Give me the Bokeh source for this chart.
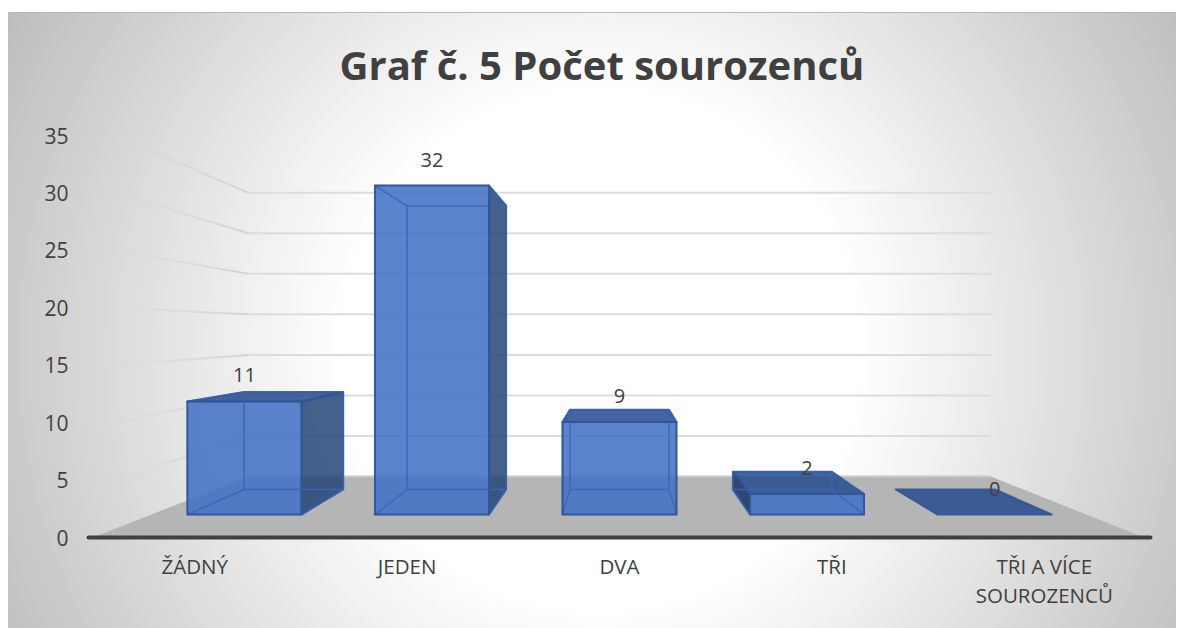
from bokeh.plotting import figure
from bokeh.models import FactorRange, Range1d, FixedTicker
from bokeh.core.properties import value
from bokeh.embed import file_html
from bokeh.resources import INLINE

title = "Graf č. 5 Počet sourozenců"
categories = ["ŽÁDNÝ", "JEDEN", "DVA", "TŘI", "TŘI A VÍCE\nSOUROZENCŮ"]
values = [11, 32, 9, 2, 0]
y_ticks = [0, 5, 10, 15, 20, 25, 30, 35]

FONT = "Open Sans"
TEXT = "#404040"
Y_TOP = 38.05
CX = 2.5
# 3D planes: (x scale, y scale, y base in axis units)
BAR_F = (0.883, 0.895, 2.0)
BAR_B = (0.767, 0.772, 4.18)
WALL = (0.699, 0.706, 5.31)
HALF = 0.304


def px(c, plane):
    return CX + (c - CX) * plane[0]


def py(v, plane):
    return plane[2] + v * plane[1]


p = figure(width=1168, height=620, x_range=FactorRange(*categories, factor_padding=0, range_padding=0),
           y_range=Range1d(0, Y_TOP), output_backend="svg", toolbar_location=None,
           min_border_left=80, min_border_right=26, min_border_bottom=91, min_border_top=92)
p.margin = (8, 0, 0, 8)
p.styles = {
    "background": "linear-gradient(#fff,#fff) top/100% 4px no-repeat, "
                  "linear-gradient(#b8b8b8,#b8b8b8) 0 4px/100% 1px no-repeat, "
                  "radial-gradient(circle 680px at 592px 342px, #ffffff 38%, #bdbdbd 100%)",
}
p.background_fill_alpha = 0
p.border_fill_alpha = 0
p.outline_line_color = None
p.grid.visible = False

p.title.text = title
p.title.text_font = FONT
p.title.text_font_size = "40px"
p.title.text_font_style = "bold"
p.title.text_color = TEXT
p.title.align = "left"
p.title.offset = 251
p.title.standoff = 17

p.yaxis.ticker = FixedTicker(ticks=y_ticks)
p.yaxis.axis_line_color = None
p.yaxis.major_tick_line_color = None
p.yaxis.minor_tick_line_color = None
p.yaxis.major_label_standoff = 14
p.yaxis.major_label_text_font = FONT
p.yaxis.major_label_text_font_size = "21px"
p.yaxis.major_label_text_color = TEXT

p.xaxis.axis_line_color = "#404040"
p.xaxis.axis_line_width = 4
p.xaxis.axis_line_cap = "round"
p.xaxis.major_tick_line_color = None
p.xaxis.minor_tick_line_color = None
p.xaxis.major_label_standoff = 8
p.xaxis.major_label_text_font = FONT
p.xaxis.major_label_text_font_size = "20.5px"
p.xaxis.major_label_text_color = TEXT
p.xaxis.major_label_text_line_height = 1.07

# floor
p.patch([0.02, 4.97, px(5, WALL), px(0, WALL)], [0, 0, py(0, WALL), py(0, WALL)],
        fill_color="#b5b5b5", line_color=None)

# gridlines on left wall (fading) and on back wall
LEFT_END = 0.127
steps = 8
seg_x, seg_y, seg_a = [], [], []
for t in y_ticks[1:]:
    for i in range(steps):
        a, b = i / steps, (i + 1) / steps
        xa = LEFT_END + (px(0, WALL) - LEFT_END) * a
        xb = LEFT_END + (px(0, WALL) - LEFT_END) * b
        ya = t + (py(t, WALL) - t) * a
        yb = t + (py(t, WALL) - t) * b
        seg_x.append([xa, xb])
        seg_y.append([ya, yb])
        seg_a.append(b)
p.multi_line(seg_x, seg_y, line_color="#d4d4d4", line_width=2, line_alpha=seg_a)
back_x = [[px(0, WALL), px(5, WALL)] for _ in y_ticks[1:]]
back_y = [[py(t, WALL), py(t, WALL)] for t in y_ticks[1:]]
p.multi_line(back_x, back_y, line_color="#dcdcdc", line_width=2)
p.line([px(0, WALL), px(5, WALL)], [py(0, WALL), py(0, WALL)], line_color="#c8c8c8", line_width=2)

LIGHT = "#4472C4"
SIDE = "#264478"
LEFT_SIDE = "#1F3864"
TOP = "#2B4F8F"
EDGE = "#2F5597"
INNER = "#3A66BA"


def face(xs, ys, color, alpha):
    p.patch(xs, ys, fill_color=color, fill_alpha=alpha, line_color=EDGE, line_width=2, line_alpha=0.9,
            line_join="round")


def outline(xs, ys):
    p.patch(xs, ys, fill_color=None, line_color=INNER, line_width=1.5, line_alpha=0.6, line_join="round")


for i, v in enumerate(values):
    l, r = i + 0.5 - HALF, i + 0.5 + HALF
    lf, rf, lb, rb = px(l, BAR_F), px(r, BAR_F), px(l, BAR_B), px(r, BAR_B)
    yf0, yf1, yb0, yb1 = py(0, BAR_F), py(v, BAR_F), py(0, BAR_B), py(v, BAR_B)
    left = ([lf, lb, lb, lf], [yf0, yb0, yb1, yf1])
    right = ([rf, rb, rb, rf], [yf0, yb0, yb1, yf1])
    top = ([lf, rf, rb, lb], [yf1, yf1, yb1, yb1])
    bottom = ([lf, rf, rb, lb], [yf0, yf0, yb0, yb0])
    back = ([lb, rb, rb, lb], [yb0, yb0, yb1, yb1])
    front = ([lf, rf, rf, lf], [yf0, yf0, yf1, yf1])
    show_left = lb < lf
    show_right = rb > rf
    show_top = yb1 > yf1 or v == 0
    if v > 0:
        if show_left:
            face(*left, LEFT_SIDE, 0.88)
        if show_right:
            face(*right, SIDE, 0.85)
    if show_top:
        face(*top, TOP, 0.88)
    if v > 0:
        p.patch(*front, fill_color=LIGHT, fill_alpha=0.88, line_color=None)
        outline(*back)
        outline(*bottom)
        if not show_left:
            outline(*left)
        if not show_right:
            outline(*right)
        if not show_top:
            outline(*top)
        p.patch(*front, fill_color=None, line_color=EDGE, line_width=2, line_alpha=0.9, line_join="round")

p.text([px(i + 0.5, BAR_F) for i in range(len(values))], [py(v, BAR_F) for v in values],
       text=[str(v) for v in values], text_font=value(FONT), text_font_size="20px", text_color=TEXT,
       text_align="center", text_baseline="middle", y_offset=-26)

open("out.html", "w").write(file_html(p, INLINE))
